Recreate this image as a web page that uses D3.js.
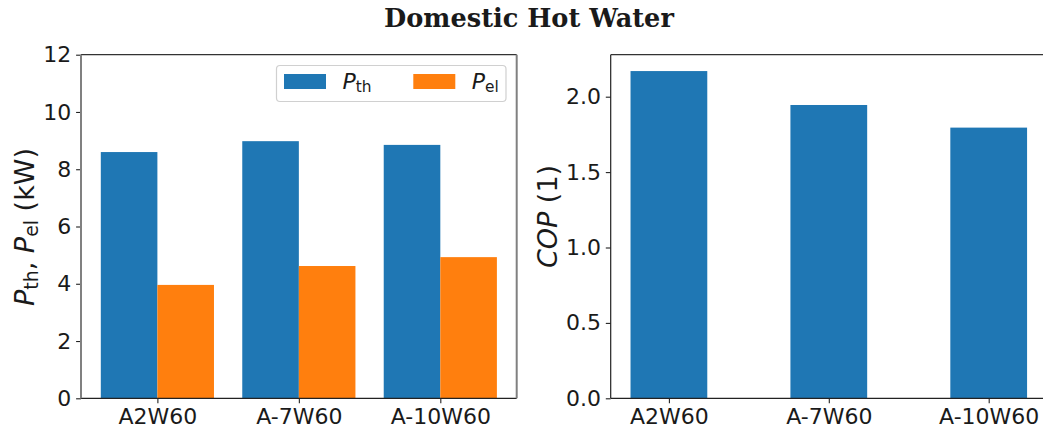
<!DOCTYPE html>
<html>
<head>
<meta charset="utf-8">
<script src="https://cdn.jsdelivr.net/npm/d3@7"></script>
<style>
  html, body { margin: 0; padding: 0; background: #fff; }
  svg { display: block; }
  text { font-family: "DejaVu Sans", sans-serif; fill: #1a1a1a; }
</style>
</head>
<body>
<svg id="chart" width="1043" height="432"></svg>
<script>
// Operating points of the heat pump in domestic hot water mode
const categories = ["A2W60", "A-7W60", "A-10W60"];
const thermalPower = [8.60, 8.98, 8.85];     // P_th in kW
const electricPower = [3.96, 4.62, 4.93];    // P_el in kW
const cop = [2.17, 1.945, 1.795];            // COP (1)
const powerTicks = [0, 2, 4, 6, 8, 10, 12];
const copTicks = [0.0, 0.5, 1.0, 1.5, 2.0];

const blue = "#1f77b4";
const orange = "#ff7f0e";
const fontSize = 22;
const tickLen = 4.9;

const svg = d3.select("#chart");

// Title
svg.append("text")
  .attr("x", 529).attr("y", 27)
  .attr("text-anchor", "middle")
  .style("font-family", "'DejaVu Serif', serif")
  .style("font-weight", "bold")
  .style("font-size", "25.6px")
  .text("Domestic Hot Water");

// Left panel: thermal and electric power
const L = { left: 81, right: 516.7, top: 54.7, bottom: 398.3 };
const xL = d3.scaleLinear().domain([-0.54, 2.54]).range([L.left, L.right]);
const yL = d3.scaleLinear().domain([0, 12]).range([L.bottom, L.top]);
const barW = 0.4;

const gL = svg.append("g");
gL.selectAll("rect.pth").data(thermalPower).join("rect")
  .attr("class", "pth")
  .attr("x", (d, i) => xL(i - barW))
  .attr("width", xL(barW) - xL(0))
  .attr("y", d => yL(d))
  .attr("height", d => yL(0) - yL(d))
  .attr("fill", blue);
gL.selectAll("rect.pel").data(electricPower).join("rect")
  .attr("class", "pel")
  .attr("x", (d, i) => xL(i))
  .attr("width", xL(barW) - xL(0))
  .attr("y", d => yL(d))
  .attr("height", d => yL(0) - yL(d))
  .attr("fill", orange);

function styleAxis(g) {
  g.select(".domain").remove();
  g.selectAll(".tick line").attr("stroke", "#222").attr("stroke-width", 1.1);
  g.selectAll(".tick text").style("font-size", fontSize + "px").attr("fill", "#1a1a1a");
}

gL.append("g")
  .attr("transform", `translate(${L.left},0)`)
  .call(d3.axisLeft(yL).tickValues(powerTicks).tickFormat(d3.format("d"))
    .tickSize(tickLen).tickPadding(4.9))
  .call(styleAxis);
gL.append("g")
  .attr("transform", `translate(0,${L.bottom})`)
  .call(d3.axisBottom(xL).tickValues(d3.range(categories.length))
    .tickFormat(i => categories[i]).tickSize(tickLen).tickPadding(4.9))
  .call(styleAxis);

// spines
gL.append("line").attr("x1", L.left).attr("x2", L.right).attr("y1", L.top).attr("y2", L.top)
  .attr("stroke", "#333").attr("stroke-width", 1.2);
gL.append("line").attr("x1", L.left).attr("x2", L.right).attr("y1", L.bottom).attr("y2", L.bottom)
  .attr("stroke", "#222").attr("stroke-width", 1.2);
gL.append("line").attr("x1", L.left).attr("x2", L.left).attr("y1", L.top).attr("y2", L.bottom)
  .attr("stroke", "#808080").attr("stroke-width", 2);
gL.append("line").attr("x1", L.right).attr("x2", L.right).attr("y1", L.top).attr("y2", L.bottom)
  .attr("stroke", "#808080").attr("stroke-width", 2);

// y label with subscripts
function addMathLabel(parent, x, y, parts, size) {
  const t = parent.append("text")
    .attr("transform", `translate(${x},${y}) rotate(-90)`)
    .attr("text-anchor", "middle")
    .style("font-size", size + "px");
  parts.forEach(p => {
    const s = t.append("tspan").text(p.t);
    if (p.italic) s.style("font-style", "italic");
    if (p.sub) s.attr("dy", "0.22em").style("font-size", (size * 0.7) + "px");
    if (p.after) s.attr("dy", "-0.154em");
  });
  return t;
}

addMathLabel(svg, 34, 227, [
  { t: "P", italic: true },
  { t: "th", sub: true },
  { t: ", ", after: true },
  { t: "P", italic: true },
  { t: "el", sub: true },
  { t: " (kW)", after: true }
], 27);

// Legend
const leg = svg.append("g");
leg.append("rect")
  .attr("x", 276.5).attr("y", 65.5).attr("width", 229.5).attr("height", 36)
  .attr("rx", 3.5).attr("fill", "#fff").attr("fill-opacity", 0.8)
  .attr("stroke", "#d0d0d0").attr("stroke-width", 1.2);
const legendItems = [
  { color: blue, sub: "th", x: 284 },
  { color: orange, sub: "el", x: 413.3 }
];
legendItems.forEach(it => {
  leg.append("rect").attr("x", it.x).attr("y", 74).attr("width", 42).attr("height", 15)
    .attr("fill", it.color);
  const t = leg.append("text").attr("x", it.x + 58.5).attr("y", 89)
    .style("font-size", fontSize + "px");
  t.append("tspan").style("font-style", "italic").text("P");
  t.append("tspan").attr("dy", "0.22em").style("font-size", (fontSize * 0.7) + "px").text(it.sub);
});

// Right panel: coefficient of performance
const R = { left: 610.7, right: 1046.9, top: 54.7, bottom: 398.3 };
const copW = 0.48;
const xR = d3.scaleLinear().domain([-0.364, 2.364]).range([R.left, R.right]);
const yR = d3.scaleLinear().domain([0, d3.max(cop) * 1.05]).range([R.bottom, R.top]);

const gR = svg.append("g");
gR.selectAll("rect.cop").data(cop).join("rect")
  .attr("class", "cop")
  .attr("x", (d, i) => xR(i - copW / 2))
  .attr("width", xR(copW) - xR(0))
  .attr("y", d => yR(d))
  .attr("height", d => yR(0) - yR(d))
  .attr("fill", blue);

gR.append("g")
  .attr("transform", `translate(${R.left},0)`)
  .call(d3.axisLeft(yR).tickValues(copTicks).tickFormat(d3.format(".1f"))
    .tickSize(tickLen).tickPadding(4.9))
  .call(styleAxis);
gR.append("g")
  .attr("transform", `translate(0,${R.bottom})`)
  .call(d3.axisBottom(xR).tickValues(d3.range(categories.length))
    .tickFormat(i => categories[i]).tickSize(tickLen).tickPadding(4.9))
  .call(styleAxis);

gR.append("line").attr("x1", R.left).attr("x2", R.right).attr("y1", R.top).attr("y2", R.top)
  .attr("stroke", "#333").attr("stroke-width", 1.2);
gR.append("line").attr("x1", R.left).attr("x2", R.right).attr("y1", R.bottom).attr("y2", R.bottom)
  .attr("stroke", "#222").attr("stroke-width", 1.2);
gR.append("line").attr("x1", R.left).attr("x2", R.left).attr("y1", R.top).attr("y2", R.bottom)
  .attr("stroke", "#222").attr("stroke-width", 1.2);

addMathLabel(svg, 557, 216.5, [
  { t: "COP", italic: true },
  { t: " (1)" }
], 27);
</script>
</body>
</html>
